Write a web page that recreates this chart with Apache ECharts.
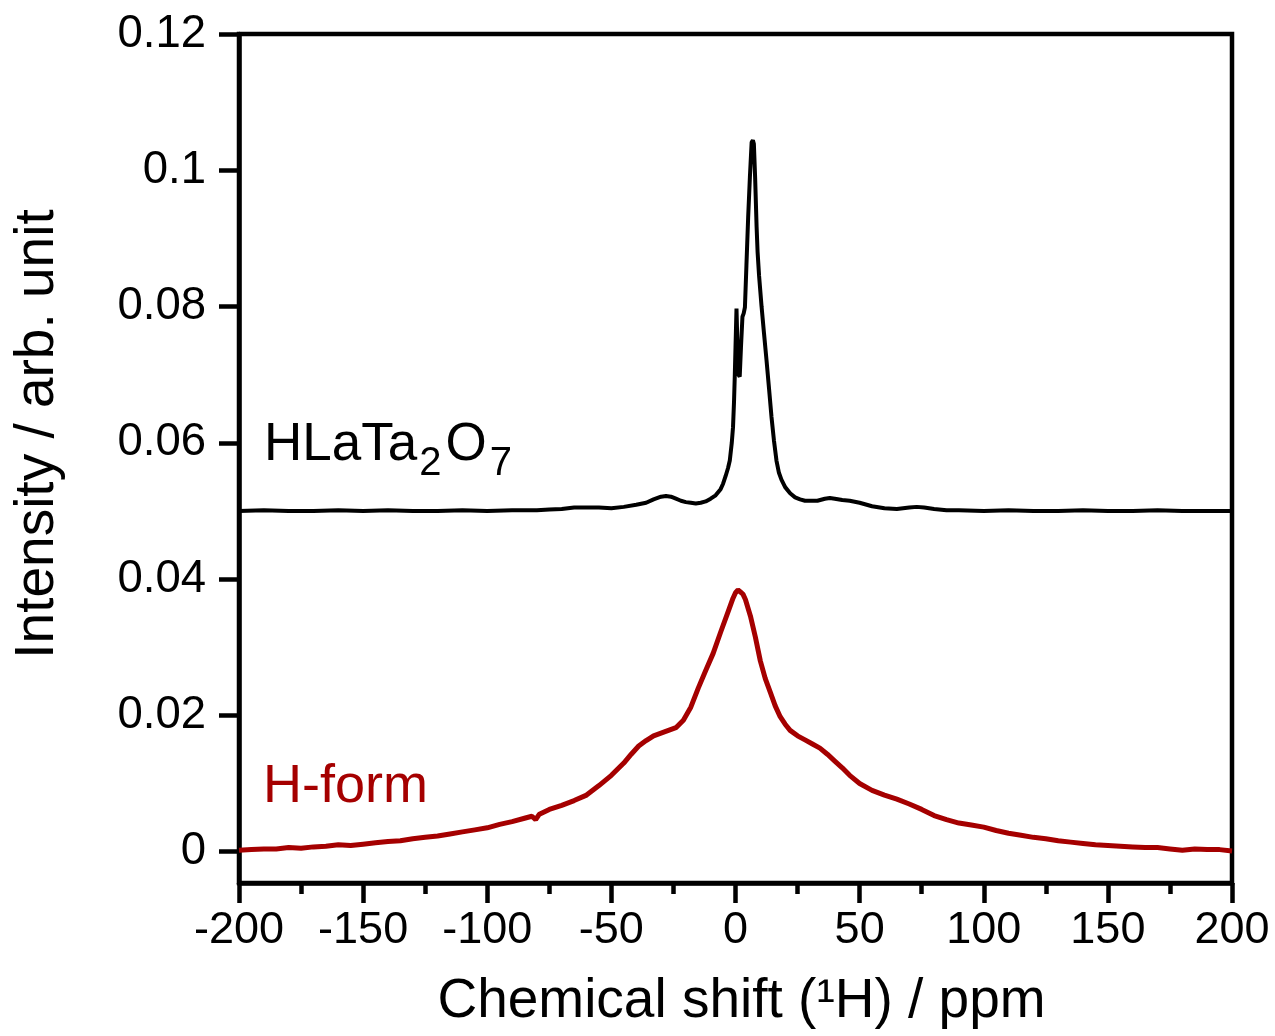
<!DOCTYPE html>
<html>
<head>
<meta charset="utf-8">
<script src="https://cdn.jsdelivr.net/npm/echarts@6/dist/echarts.min.js"></script>
<style>
html,body{margin:0;padding:0;background:#fff;}
#chart{width:1275px;height:1036px;}
</style>
</head>
<body>
<div id="chart"></div>
<script>
// ---- Data ----
const xTicks = [-200, -150, -100, -50, 0, 50, 100, 150, 200];
const yTicks = [0, 0.02, 0.04, 0.06, 0.08, 0.1, 0.12];

// H-form spectrum (red)
const hformShift = [-200,-195,-190,-185,-180,-175,-170,-165,-160,-155,-150,-145,-140,-135,-130,-125,-120,-115,-110,-105,-100,-95,-90,-85,-82,-80.5,-79,-75,-70,-65,-60,-55,-50,-45,-42,-39,-36,-33,-30,-27,-24,-21,-18,-15,-12,-9,-6,-3,-1,0,1,2,3,4,6,8,10,12,14,16,18,20,22,25,28,31,34,37,40,43,46,50,55,60,65,70,75,80,85,90,95,100,105,110,115,120,125,130,135,140,145,150,155,160,165,170,175,180,185,190,195,200];
const hformIntensity = [0.0002,0.0003,0.0004,0.0004,0.0006,0.0005,0.0007,0.0008,0.0010,0.0009,0.0011,0.0013,0.0015,0.0016,0.0019,0.0021,0.0023,0.0026,0.0029,0.0032,0.0035,0.0040,0.0044,0.0049,0.0052,0.0047,0.0055,0.0062,0.0068,0.0075,0.0083,0.0097,0.0112,0.0130,0.0143,0.0155,0.0163,0.0170,0.0174,0.0178,0.0182,0.0193,0.0212,0.0240,0.0266,0.0291,0.0322,0.0352,0.0372,0.0380,0.0384,0.0381,0.0378,0.0370,0.0346,0.0315,0.0280,0.0254,0.0234,0.0214,0.0198,0.0187,0.0178,0.0170,0.0164,0.0158,0.0152,0.0143,0.0133,0.0123,0.0112,0.0100,0.0090,0.0083,0.0077,0.0070,0.0062,0.0053,0.0047,0.0042,0.0039,0.0036,0.0031,0.0027,0.0024,0.0021,0.0019,0.0016,0.0014,0.0012,0.0010,0.0009,0.0008,0.0007,0.0006,0.0006,0.0004,0.0002,0.0004,0.0003,0.0003,0.0001];

// HLaTa2O7 spectrum (black, offset by 0.05)
const hlatShift = [-200,-190,-180,-170,-160,-150,-140,-130,-120,-110,-100,-90,-80,-75,-70,-65,-60,-55,-50,-45,-40,-36,-33,-30,-28,-26,-24,-22,-20,-18,-16,-14,-12,-10,-8,-6,-5,-4,-3,-2.3,-1.5,-1,-0.6,-0.3,0,0.4,0.8,1.2,1.7,2.2,2.8,3.3,3.8,4.4,5.1,5.8,6.5,7.0,7.4,7.9,8.5,8.9,9.5,10.5,11.5,12.5,13.5,14.5,15.5,16.5,17.5,18.5,20,22,24,26,28,30,33,36,38,40,43,46,50,55,60,65,70,73,76,80,85,90,100,110,120,130,140,150,160,170,180,190,200];
const hlatIntensity = [0.0500,0.0501,0.0500,0.0500,0.0501,0.0500,0.0501,0.0500,0.0500,0.0501,0.0500,0.0501,0.0501,0.0502,0.0503,0.0505,0.0505,0.0505,0.0504,0.0506,0.0509,0.0512,0.0517,0.0521,0.0522,0.0521,0.0518,0.0515,0.0513,0.0512,0.0511,0.0512,0.0514,0.0518,0.0523,0.0532,0.0540,0.0551,0.0563,0.0574,0.0600,0.0623,0.0660,0.0697,0.0740,0.0797,0.0740,0.0700,0.0697,0.0740,0.0785,0.0790,0.0799,0.0860,0.0931,0.0990,0.1041,0.1044,0.1039,0.0990,0.0917,0.0880,0.0845,0.0800,0.0760,0.0721,0.0680,0.0638,0.0603,0.0574,0.0556,0.0546,0.0535,0.0526,0.0520,0.0517,0.0515,0.0515,0.0515,0.0518,0.0519,0.0518,0.0516,0.0515,0.0512,0.0507,0.0504,0.0503,0.0505,0.0506,0.0505,0.0503,0.0501,0.0501,0.0500,0.0501,0.0500,0.0500,0.0501,0.0500,0.0500,0.0501,0.0500,0.0500,0.0500];

const FONT = '"Liberation Sans", Arial, sans-serif';

const hformData = hformShift.map((x, i) => [x, hformIntensity[i]]);
const hlatData = hlatShift.map((x, i) => [x, hlatIntensity[i]]);

// measure text for composite chemical formula label
const mctx = document.createElement('canvas').getContext('2d');
function tw(t, size) { mctx.font = size + 'px ' + FONT; return mctx.measureText(t).width; }

const mainSize = 53, subSize = 40;
const fx0 = 264;
const mainMid = 464 - 0.3465 * mainSize;
const subMid = 478 - 0.3465 * subSize;
const x2 = fx0 + tw('HLaTa', mainSize) + 2;
const xO = x2 + tw('2', subSize) + 4;
const x7 = xO + tw('O', mainSize) + 3;

const chart = echarts.init(document.getElementById('chart'), null, {renderer: 'canvas'});
chart.setOption({
  backgroundColor: '#fff',
  animation: false,
  grid: {left: 239, right: 43, top: 34, bottom: 153, show: true, borderColor: '#000', borderWidth: 4.5, backgroundColor: 'transparent'},
  xAxis: {
    type: 'value', min: -200, max: 200, interval: 50,
    name: 'Chemical shift (\u00B9H) / ppm', nameLocation: 'middle', nameGap: 91,
    nameTextStyle: {fontFamily: FONT, fontSize: 55, color: '#000', padding: [0, 0, 0, 12]},
    axisLine: {show: true, onZero: false, lineStyle: {color: '#000', width: 4.5}},
    axisTick: {show: true, inside: false, length: 20, lineStyle: {color: '#000', width: 4.5}},
    minorTick: {show: true, splitNumber: 2, length: 11, lineStyle: {color: '#000', width: 4.5}},
    axisLabel: {fontFamily: FONT, fontSize: 45, color: '#000', margin: 25, showMinLabel: true, showMaxLabel: true},
    splitLine: {show: false}
  },
  yAxis: {
    type: 'value', min: -0.0046, max: 0.12,
    axisLine: {show: true, onZero: false, lineStyle: {color: '#000', width: 4.5}},
    axisTick: {show: true, inside: false, length: 20, customValues: yTicks, lineStyle: {color: '#000', width: 4.5}},
    axisLabel: {fontFamily: FONT, fontSize: 45.5, color: '#000', margin: 33, customValues: yTicks,
      formatter: v => String(+v.toFixed(4))},
    splitLine: {show: false}
  },
  graphic: [
    {type: 'text', x: 38, y: 434, rotation: Math.PI / 2,
     style: {text: 'Intensity / arb. unit', font: '55px ' + FONT, fill: '#000', align: 'center', verticalAlign: 'middle'}},
    {type: 'text', x: fx0, y: mainMid, style: {text: 'HLaTa', font: mainSize + 'px ' + FONT, fill: '#000', align: 'left', verticalAlign: 'middle'}},
    {type: 'text', x: x2, y: subMid, style: {text: '2', font: subSize + 'px ' + FONT, fill: '#000', align: 'left', verticalAlign: 'middle'}},
    {type: 'text', x: xO, y: mainMid, style: {text: 'O', font: mainSize + 'px ' + FONT, fill: '#000', align: 'left', verticalAlign: 'middle'}},
    {type: 'text', x: x7, y: subMid, style: {text: '7', font: subSize + 'px ' + FONT, fill: '#000', align: 'left', verticalAlign: 'middle'}},
    {type: 'text', x: 263, y: 805.7 - 0.3465 * 54, style: {text: 'H-form', font: '54px ' + FONT, fill: '#A50000', align: 'left', verticalAlign: 'middle'}}
  ],
  series: [
    {name: 'H-form', type: 'line', data: hformData, showSymbol: false, symbol: 'none',
     lineStyle: {color: '#A50000', width: 5}, clip: true, z: 3},
    {name: 'HLaTa2O7', type: 'line', data: hlatData, showSymbol: false, symbol: 'none',
     lineStyle: {color: '#000', width: 4}, clip: true, z: 4}
  ]
});
</script>
</body>
</html>
